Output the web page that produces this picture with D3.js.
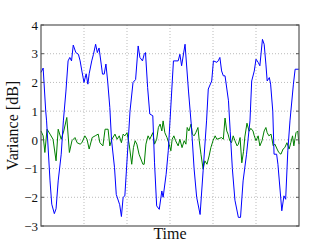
<!DOCTYPE html>
<html>
<head>
<meta charset="utf-8">
<script src="https://cdn.jsdelivr.net/npm/d3@7"></script>
<style>
body { margin: 0; background: #fff; }
svg text { font-family: "Liberation Serif", "DejaVu Serif", serif; fill: #111; }
</style>
</head>
<body>
<svg id="chart" width="332" height="251"></svg>
<script>
// blue series: time (grid units) and variance
let blueTime = [0.00,0.05,0.11,0.13,0.21,0.25,0.31,0.35,0.40,0.47,0.52,0.58,0.63,0.67,0.71,0.75,0.81,0.87,0.91,0.95,
	1.00,1.05,1.09,1.12,1.18,1.22,1.27,1.31,1.35,1.40,1.43,1.47,1.51,1.55,1.60,1.64,1.71,1.75,1.83,1.87,1.91,1.95,
	2.03,2.07,2.14,2.20,2.26,2.30,2.36,2.40,2.43,2.48,2.53,2.60,2.64,2.69,2.75,2.81,2.84,2.91,2.96,
	3.00,3.08,3.19,3.23,3.27,3.35,3.43,3.50,3.56,3.62,3.70,3.77,3.85,3.89,3.97,
	4.01,4.09,4.12,4.16,4.20,4.24,4.28,4.36,4.40,4.45,4.51,4.59,4.64,4.70,4.78,4.86,4.90,4.96,
	5.00,5.05,5.09,5.15,5.19,5.23,5.26,5.31,5.34,5.39,5.42,5.48,5.51,5.60,5.65,5.69,5.74,5.79,5.87,5.91,5.98,6.00];
let blueValue = [2.35,2.5,1.0,0.66,-1.43,-2.24,-2.57,-2.4,-1.43,-0.5,0.66,1.7,2.75,2.87,2.75,3.3,3.04,2.98,2.75,2.4,
	2.0,2.3,1.94,2.3,2.75,2.98,3.33,3.04,3.2,2.64,2.29,2.29,2.64,2.05,1.13,0.0,-0.97,-1.9,-2.26,-2.67,-2.0,-1.95,
	0.0,1.0,2.0,2.1,3.27,2.87,2.75,2.98,3.04,1.82,0.9,0.84,-0.8,-2.3,-2.42,-1.78,-2.0,-1.2,-0.38,
	0.66,2.75,2.75,2.98,2.58,3.33,1.7,0.43,-1.0,-2.0,-2.6,-1.08,0.66,1.77,2.05,
	2.75,2.7,2.75,2.87,2.4,2.23,2.23,1.36,0.3,-1.0,-2.1,-2.7,-2.7,-1.43,-0.5,0.66,2.05,2.4,
	2.81,2.7,2.58,3.5,3.33,2.64,2.05,2.17,1.94,1.0,-0.5,-0.5,-0.85,-2.47,-1.95,-2.07,-0.38,0.66,1.94,2.46,2.46,2.46];

// green series
let greenTime = [0.00,0.05,0.09,0.14,0.21,0.28,0.35,0.40,0.47,0.53,0.60,0.66,0.72,0.79,0.84,0.91,0.95,
	1.02,1.07,1.12,1.19,1.26,1.33,1.37,1.44,1.49,1.56,1.60,1.65,1.72,1.77,1.82,1.87,1.91,1.95,
	2.00,2.05,2.11,2.15,2.19,2.23,2.28,2.37,2.40,2.44,2.49,2.53,2.60,2.64,2.69,2.73,2.77,2.81,2.84,2.88,2.93,2.98,
	3.02,3.05,3.09,3.13,3.19,3.23,3.28,3.33,3.37,3.40,3.44,3.49,3.52,3.56,3.60,3.65,3.68,3.72,3.77,3.81,3.86,3.91,3.95,
	4.00,4.05,4.09,4.20,4.24,4.28,4.32,4.35,4.39,4.43,4.47,4.51,4.56,4.59,4.63,4.67,4.71,4.74,4.79,4.84,4.88,4.93,4.96,
	5.00,5.05,5.09,5.14,5.19,5.23,5.26,5.30,5.35,5.40,5.44,5.49,5.53,5.58,5.63,5.67,5.72,5.77,5.81,5.85,5.88,5.93,5.97,6.00];
let greenValue = [0.31,0.14,-0.44,0.37,0.2,0.02,-0.73,0.37,0.02,0.31,0.78,-0.44,-0.03,0.08,-0.1,-0.15,-0.1,
	0.14,0.02,-0.32,0.08,0.14,0.2,-0.1,-0.21,0.37,0.37,-0.21,0.02,0.2,0.02,0.14,-0.1,0.2,0.14,
	0.25,-0.15,-0.85,-0.27,-0.03,-0.15,-0.5,-0.85,-0.85,-0.15,0.14,0.02,0.25,-0.15,0.02,0.43,0.55,0.31,0.66,0.25,0.08,-0.15,
	-0.38,0.02,0.14,-0.03,-0.21,0.02,-0.27,-0.03,-0.15,0.43,0.31,0.55,0.2,0.14,0.25,0.43,-0.03,-0.5,-1.02,-0.73,-0.85,-0.56,-0.27,
	-0.03,0.14,0.02,0.08,0.02,0.76,0.31,0.2,-0.03,-0.1,0.14,-0.03,-0.21,-0.15,0.08,-0.8,-0.4,0.1,0.58,0.3,0.4,0.31,0.14,
	-0.03,0.14,-0.21,-0.03,0.31,0.43,0.25,0.14,0.2,-0.21,-0.15,-0.32,-0.44,-0.5,-0.32,-0.27,-0.1,-0.32,-0.1,0.14,-0.21,0.25,0.31,-0.15];

let yTicks = [-3,-2,-1,0,1,2,3,4];
let xGrid = [1,2,3,4,5];
let xLabel = 'Time';
let yLabel = 'Variance [dB]';

var svg = d3.select('#chart');
var pLeft = 41, pRight = 299, pTop = 25, pBottom = 226;

var x = d3.scaleLinear().domain([0, 6]).range([pLeft, pRight]);
var y = d3.scaleLinear().domain([-3, 4]).range([pBottom, pTop]);

// grid
svg.append('g').selectAll('line').data(xGrid).enter()
	.append('line')
		.attr('x1', function(d){return x(d)}).attr('x2', function(d){return x(d)})
		.attr('y1', pTop).attr('y2', pBottom)
		.attr('stroke', '#aaa').attr('stroke-width', 0.8)
		.attr('stroke-dasharray', '1,2');
svg.append('g').selectAll('line').data(yTicks.slice(1, -1)).enter()
	.append('line')
		.attr('x1', pLeft).attr('x2', pRight)
		.attr('y1', function(d){return y(d)}).attr('y2', function(d){return y(d)})
		.attr('stroke', '#aaa').attr('stroke-width', 0.8)
		.attr('stroke-dasharray', '1,2');

// lines
var line = d3.line()
	.x(function(d){return x(d[0])})
	.y(function(d){return y(d[1])});

svg.append('path')
	.datum(d3.zip(greenTime, greenValue))
	.attr('d', line)
	.attr('fill', 'none')
	.attr('stroke', '#008000')
	.attr('stroke-width', 1);

svg.append('path')
	.datum(d3.zip(blueTime, blueValue))
	.attr('d', line)
	.attr('fill', 'none')
	.attr('stroke', '#0000ff')
	.attr('stroke-width', 1);

// y axis labels
var yAxis = d3.axisLeft(y).tickValues(yTicks).tickSize(0).tickPadding(3)
	.tickFormat(function(d){return d < 0 ? '\u2212' + Math.abs(d) : d});
var ya = svg.append('g').attr('transform', 'translate(' + pLeft + ',0)').call(yAxis);
ya.select('.domain').remove();
ya.selectAll('text').style('font-size', '13px').attr('fill', '#222')
	.style('font-family', '"Liberation Serif", serif');

// small inward ticks
svg.append('g').selectAll('line').data(yTicks).enter()
	.append('line')
		.attr('x1', pLeft).attr('x2', pLeft + 3)
		.attr('y1', function(d){return y(d)}).attr('y2', function(d){return y(d)})
		.attr('stroke', '#555');
svg.append('g').selectAll('line').data(yTicks).enter()
	.append('line')
		.attr('x1', pRight - 3).attr('x2', pRight)
		.attr('y1', function(d){return y(d)}).attr('y2', function(d){return y(d)})
		.attr('stroke', '#555');

// frame
svg.append('rect')
	.attr('x', pLeft).attr('y', pTop)
	.attr('width', pRight - pLeft).attr('height', pBottom - pTop)
	.attr('fill', 'none').attr('stroke', '#555').attr('stroke-width', 1.2);

// axis titles
svg.append('text')
	.attr('x', (pLeft + pRight) / 2).attr('y', 239)
	.attr('text-anchor', 'middle')
	.style('font-size', '16px')
	.text(xLabel);
svg.append('text')
	.attr('transform', 'translate(18,' + (pTop + pBottom) / 2 + ') rotate(-90)')
	.attr('text-anchor', 'middle')
	.style('font-size', '16px')
	.text(yLabel);
</script>
</body>
</html>
